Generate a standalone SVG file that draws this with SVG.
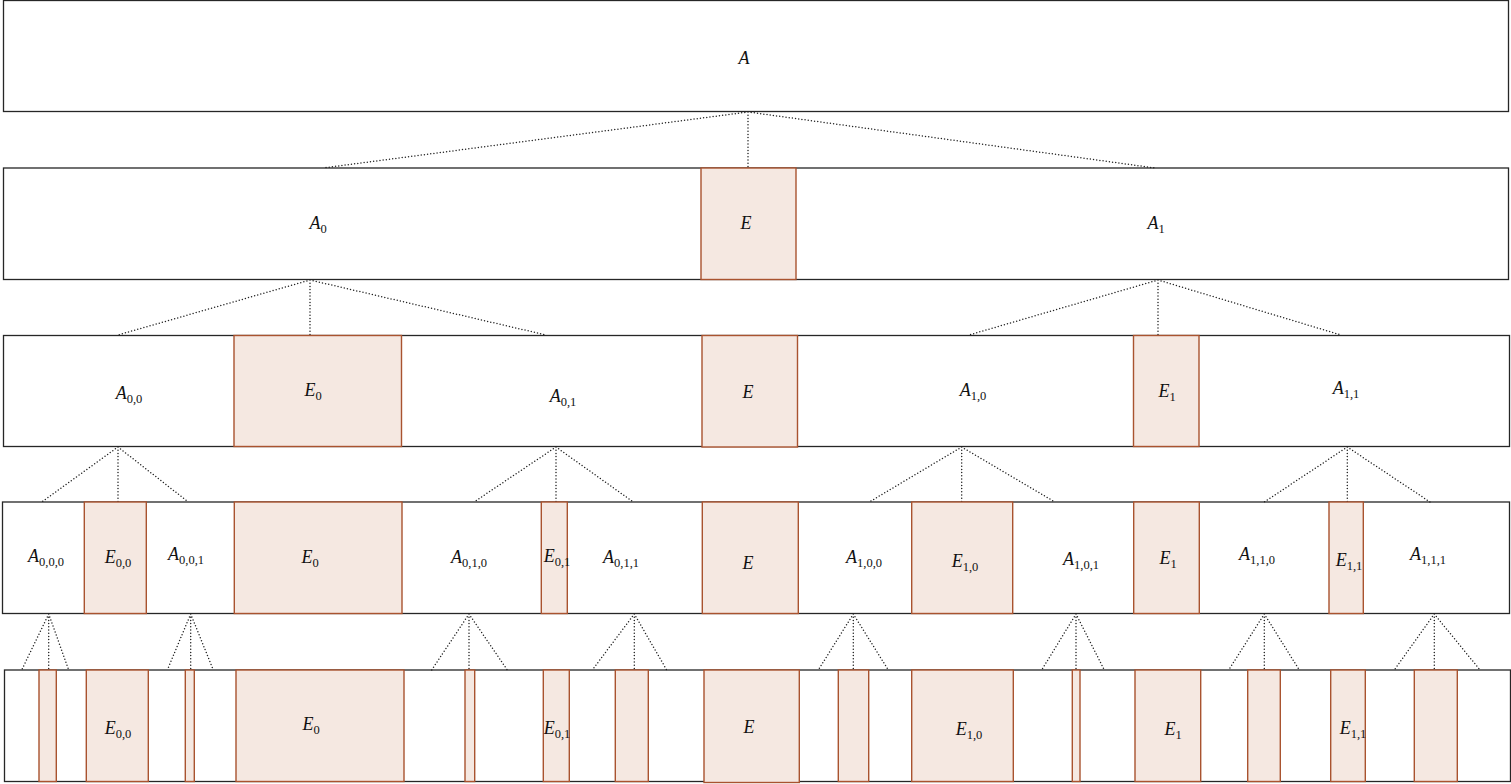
<svg xmlns="http://www.w3.org/2000/svg" width="1511" height="784" viewBox="0 0 1511 784">
<style>
.row{fill:#fff;stroke:#262626;stroke-width:1.3}
.e{fill:#f5e8e1;stroke:#a9532f;stroke-width:1.4}
.t{font-family:"Liberation Serif",serif;font-style:italic;font-size:18px;fill:#111;text-anchor:middle}
.s{font-style:normal;font-size:12.5px}
.c{fill:none;stroke:#222;stroke-width:1.5;stroke-dasharray:0 3.2;stroke-linecap:round}
</style>
<rect width="1511" height="784" fill="#fff"/>
<g id="rows">
<g id="row1"><rect class="row" x="3.5" y="0.5" width="1505" height="111"/></g>
<g id="row2"><rect class="row" x="3.5" y="168" width="1505" height="111.5"/></g>
<g id="row3"><rect class="row" x="3.5" y="335.5" width="1506" height="111"/></g>
<g id="row4"><rect class="row" x="2.5" y="502" width="1507" height="111.5"/></g>
<g id="row5"><rect class="row" x="4.5" y="670" width="1506" height="111.5"/></g>
</g>
<g id="connectors">
<path class="c" d="M748 112 L323 168 M748 112 L748 168 M748 112 L1155 168"/>
<path class="c" d="M310 280 L118 335 M310 280 L310 335 M310 280 L546 335"/>
<path class="c" d="M1158 280 L969 335 M1158 280 L1158 335 M1158 280 L1341 335"/>
<path class="c" d="M118 447 L41.7 502 M118 447 L118 502 M118 447 L188.3 502"/>
<path class="c" d="M556 447 L474 502 M556 447 L556 502 M556 447 L633.3 502"/>
<path class="c" d="M961.7 447 L869.3 502 M961.7 447 L961.7 502 M961.7 447 L1055 502"/>
<path class="c" d="M1347.3 447 L1264.3 502 M1347.3 447 L1347.3 502 M1347.3 447 L1430 502"/>
<path class="c" d="M48.7 614 L21.7 670 M48.7 614 L48.7 670 M48.7 614 L68.7 670"/>
<path class="c" d="M190.7 614 L167.3 670 M190.7 614 L190.7 670 M190.7 614 L213.3 670"/>
<path class="c" d="M469 614 L431.7 670 M469 614 L469 670 M469 614 L507.3 670"/>
<path class="c" d="M634.3 614 L592.3 670 M634.3 614 L634.3 670 M634.3 614 L666.7 670"/>
<path class="c" d="M853.3 614 L818.3 670 M853.3 614 L853.3 670 M853.3 614 L888.3 670"/>
<path class="c" d="M1076 614 L1041.7 670 M1076 614 L1076 670 M1076 614 L1104.3 670"/>
<path class="c" d="M1264.3 614 L1228.7 670 M1264.3 614 L1264.3 670 M1264.3 614 L1299.3 670"/>
<path class="c" d="M1434.3 614 L1394.3 670 M1434.3 614 L1434.3 670 M1434.3 614 L1480 670"/>
</g>
<g id="A"><text class="t" x="744" y="64">A</text></g>
<g id="A_0"><text class="t" x="318" y="229">A<tspan class="s" dy="4">0</tspan></text></g>
<g id="E_r2"><rect class="e" x="701" y="168" width="95" height="111.5"/><text class="t" x="746" y="229">E</text></g>
<g id="A_1"><text class="t" x="1156" y="229">A<tspan class="s" dy="4">1</tspan></text></g>
<g id="A_00"><text class="t" x="129" y="399">A<tspan class="s" dy="4">0,0</tspan></text></g>
<g id="E0_r3"><rect class="e" x="234" y="335.5" width="167.5" height="111"/><text class="t" x="313" y="396">E<tspan class="s" dy="4">0</tspan></text></g>
<g id="A_01"><text class="t" x="563" y="402">A<tspan class="s" dy="4">0,1</tspan></text></g>
<g id="E_r3"><rect class="e" x="702" y="335.5" width="95.5" height="111.5"/><text class="t" x="748" y="398">E</text></g>
<g id="A_10"><text class="t" x="973" y="396">A<tspan class="s" dy="4">1,0</tspan></text></g>
<g id="E1_r3"><rect class="e" x="1133.5" y="335.5" width="65.5" height="111"/><text class="t" x="1167" y="397">E<tspan class="s" dy="4">1</tspan></text></g>
<g id="A_11"><text class="t" x="1346" y="394">A<tspan class="s" dy="4">1,1</tspan></text></g>
<g id="A_000"><text class="t" x="46" y="562">A<tspan class="s" dy="4">0,0,0</tspan></text></g>
<g id="E00_r4"><rect class="e" x="84.3" y="502" width="62" height="111.5"/><text class="t" x="118" y="563">E<tspan class="s" dy="4">0,0</tspan></text></g>
<g id="A_001"><text class="t" x="186" y="560">A<tspan class="s" dy="4">0,0,1</tspan></text></g>
<g id="E0_r4"><rect class="e" x="234.3" y="502" width="167.7" height="111.5"/><text class="t" x="310" y="563">E<tspan class="s" dy="4">0</tspan></text></g>
<g id="A_010"><text class="t" x="469" y="563">A<tspan class="s" dy="4">0,1,0</tspan></text></g>
<g id="E01_r4"><rect class="e" x="541.3" y="502" width="26" height="111.5"/><text class="t" x="557" y="562">E<tspan class="s" dy="4">0,1</tspan></text></g>
<g id="A_011"><text class="t" x="621" y="563">A<tspan class="s" dy="4">0,1,1</tspan></text></g>
<g id="E_r4"><rect class="e" x="702.3" y="502" width="96" height="111.5"/><text class="t" x="748" y="569">E</text></g>
<g id="A_100"><text class="t" x="864" y="563">A<tspan class="s" dy="4">1,0,0</tspan></text></g>
<g id="E10_r4"><rect class="e" x="911.7" y="502" width="101" height="111.5"/><text class="t" x="965" y="567">E<tspan class="s" dy="4">1,0</tspan></text></g>
<g id="A_101"><text class="t" x="1081" y="565">A<tspan class="s" dy="4">1,0,1</tspan></text></g>
<g id="E1_r4"><rect class="e" x="1133.7" y="502" width="65.6" height="111.5"/><text class="t" x="1168" y="564">E<tspan class="s" dy="4">1</tspan></text></g>
<g id="A_110"><text class="t" x="1257" y="560">A<tspan class="s" dy="4">1,1,0</tspan></text></g>
<g id="E11_r4"><rect class="e" x="1329" y="502" width="34.3" height="111.5"/><text class="t" x="1349" y="566">E<tspan class="s" dy="4">1,1</tspan></text></g>
<g id="A_111"><text class="t" x="1428" y="560">A<tspan class="s" dy="4">1,1,1</tspan></text></g>
<g id="E000_r5"><rect class="e" x="39" y="670" width="17.3" height="111.5"/></g>
<g id="E00_r5"><rect class="e" x="86.3" y="670" width="62" height="111.5"/><text class="t" x="118" y="734">E<tspan class="s" dy="4">0,0</tspan></text></g>
<g id="E001_r5"><rect class="e" x="185.3" y="670" width="9" height="111.5"/></g>
<g id="E0_r5"><rect class="e" x="236" y="670" width="168" height="111.5"/><text class="t" x="311" y="730">E<tspan class="s" dy="4">0</tspan></text></g>
<g id="E010_r5"><rect class="e" x="465" y="670" width="9.7" height="111.5"/></g>
<g id="E01_r5"><rect class="e" x="543.3" y="670" width="26" height="111.5"/><text class="t" x="557" y="734">E<tspan class="s" dy="4">0,1</tspan></text></g>
<g id="E011_r5"><rect class="e" x="615.3" y="670" width="33" height="111.5"/></g>
<g id="E_r5"><rect class="e" x="704" y="670" width="95.3" height="112.5"/><text class="t" x="749" y="733">E</text></g>
<g id="E100_r5"><rect class="e" x="838.3" y="670" width="30.4" height="111.5"/></g>
<g id="E10_r5"><rect class="e" x="911.7" y="670" width="101.6" height="111.5"/><text class="t" x="969" y="735">E<tspan class="s" dy="4">1,0</tspan></text></g>
<g id="E101_r5"><rect class="e" x="1072.3" y="670" width="7.7" height="111.5"/></g>
<g id="E1_r5"><rect class="e" x="1135" y="670" width="65.7" height="111.5"/><text class="t" x="1173" y="735">E<tspan class="s" dy="4">1</tspan></text></g>
<g id="E110_r5"><rect class="e" x="1247.7" y="670" width="32.6" height="111.5"/></g>
<g id="E11_r5"><rect class="e" x="1330.7" y="670" width="34.6" height="111.5"/><text class="t" x="1353" y="734">E<tspan class="s" dy="4">1,1</tspan></text></g>
<g id="E111_r5"><rect class="e" x="1414.3" y="670" width="43" height="111.5"/></g>
</svg>
